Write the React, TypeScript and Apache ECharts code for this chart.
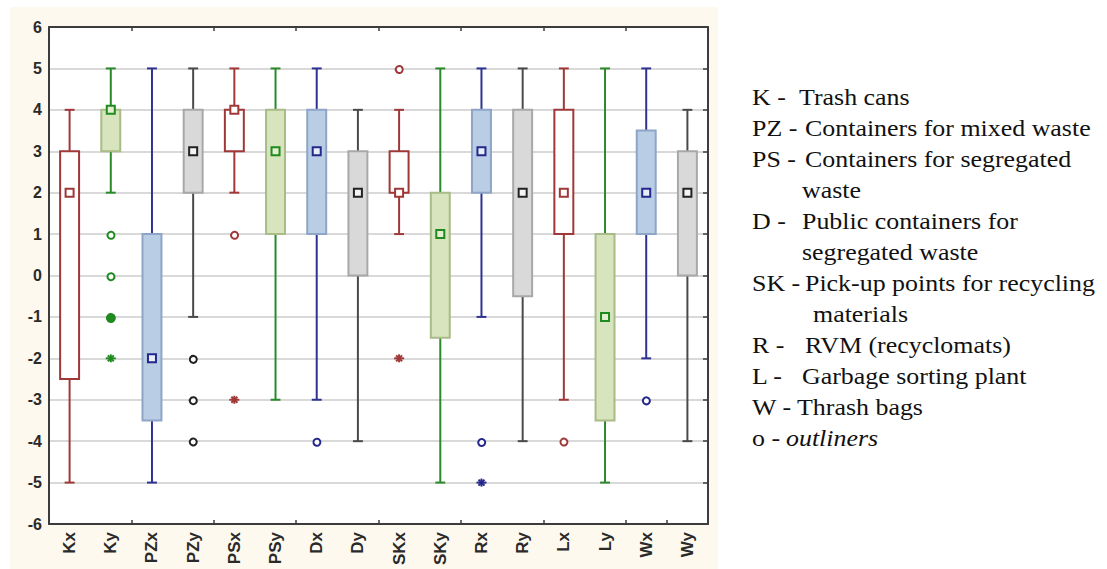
import React, { useEffect, useRef } from "react";
import * as echarts from "echarts";

// ---- data ----
const categories = ["Kx", "Ky", "PZx", "PZy", "PSx", "PSy", "Dx", "Dy", "SKx", "SKy", "Rx", "Ry", "Lx", "Ly", "Wx", "Wy"];
const whiskerMin = [-5, 2, -5, -1, 2, -3, -3, -4, 1, -5, -1, -4, -3, -5, -2, -4];
const quartile1 = [-2.5, 3, -3.5, 2, 3, 1, 1, 0, 2, -1.5, 2, -0.5, 1, -3.5, 1, 0];
const medians = [2, 4, -2, 3, 4, 3, 3, 2, 2, 1, 3, 2, 2, -1, 2, 2];
const quartile3 = [3, 4, 1, 4, 4, 4, 4, 3, 3, 2, 4, 4, 4, 1, 3.5, 3];
const whiskerMax = [4, 5, 5, 5, 5, 5, 5, 4, 4, 5, 5, 5, 5, 5, 5, 4];
// outliers: [category index, value, kind] kind 0 = outlier circle, 1 = extreme asterisk, 2 = filled circle
const outlierCat = [1, 1, 1, 1, 3, 3, 3, 4, 4, 6, 8, 8, 10, 10, 12, 14];
const outlierVal = [1, 0, -1, -2, -2, -3, -4, 1, -3, -4, 5, -2, -4, -5, -4, -3];
const outlierKind = [0, 0, 2, 1, 0, 0, 0, 0, 1, 0, 0, 1, 0, 1, 0, 0];
const yTicksMin = -6;
const yTicksMax = 6;

const legendKeys = ["K -", "PZ -", "PS -", "", "D -", "", "SK -", "", "R -", "L -", "W -", "o -"];
const legendTexts = [
  "Trash cans",
  "Containers for mixed waste",
  "Containers for segregated",
  "waste",
  "Public containers for",
  "segregated waste",
  "Pick-up points for recycling",
  "materials",
  "RVM (recyclomats)",
  "Garbage sorting plant",
  "Thrash bags",
  "outliners",
];

// ---- styles ----
const palette = [
  { line: "#a03838", box: "#a03838", fill: "#ffffff", med: "#a03838", medFill: "#ffffff" },
  { line: "#2a8a2a", box: "#a9bb86", fill: "#d7e4bd", med: "#1f8a1f", medFill: "#e4efd0" },
  { line: "#2e3391", box: "#8ea5c8", fill: "#b9cde5", med: "#24288a", medFill: "#e8eef8" },
  { line: "#4a4a4a", box: "#a8a8a8", fill: "#d9d9d9", med: "#222222", medFill: "#f4f4f4" },
];
const legendDescX = [799, 805, 805, 802, 802, 802, 805, 813, 805, 802, 797, 786];

export default function App() {
  const ref = useRef<HTMLDivElement>(null);

  useEffect(() => {
    if (!ref.current) return;
    const chart = echarts.init(ref.current, undefined, { renderer: "svg" });

    const boxData = categories.map((_, i) => [i, whiskerMin[i], quartile1[i], medians[i], quartile3[i], whiskerMax[i]]);
    const outData = outlierCat.map((c, k) => [c, outlierVal[k], outlierKind[k]]);

    const renderBox = (params: any, api: any) => {
      const i = api.value(0);
      const lo = api.coord([i, api.value(1)]);
      const q1 = api.coord([i, api.value(2)]);
      const md = api.coord([i, api.value(3)]);
      const q3 = api.coord([i, api.value(4)]);
      const hi = api.coord([i, api.value(5)]);
      const bw = api.size([1, 0])[0];
      const boxW = bw * 0.46;
      const capW = bw * 0.24;
      const p = palette[i % 4];
      const x = lo[0];
      const ls = { stroke: p.line, lineWidth: 2 };
      return {
        type: "group",
        children: [
          { type: "line", shape: { x1: x, y1: hi[1], x2: x, y2: q3[1] }, style: ls },
          { type: "line", shape: { x1: x, y1: q1[1], x2: x, y2: lo[1] }, style: ls },
          { type: "line", shape: { x1: x - capW / 2, y1: hi[1], x2: x + capW / 2, y2: hi[1] }, style: ls },
          { type: "line", shape: { x1: x - capW / 2, y1: lo[1], x2: x + capW / 2, y2: lo[1] }, style: ls },
          {
            type: "rect",
            shape: { x: x - boxW / 2, y: q3[1], width: boxW, height: q1[1] - q3[1] },
            style: { fill: p.fill, stroke: p.box, lineWidth: 2 },
          },
          {
            type: "rect",
            shape: { x: x - 4, y: md[1] - 4, width: 8, height: 8 },
            style: { fill: p.medFill, stroke: p.med, lineWidth: 2 },
          },
        ],
      };
    };

    const renderOut = (params: any, api: any) => {
      const i = api.value(0);
      const kind = api.value(2);
      const pt = api.coord([i, api.value(1)]);
      const p = palette[i % 4];
      const col = p.med;
      if (kind === 1) {
        const s = 4;
        const st = { stroke: col, lineWidth: 2 };
        return {
          type: "group",
          children: [
            { type: "line", shape: { x1: pt[0] - s - 1, y1: pt[1], x2: pt[0] + s + 1, y2: pt[1] }, style: st },
            { type: "line", shape: { x1: pt[0], y1: pt[1] - s, x2: pt[0], y2: pt[1] + s }, style: st },
            { type: "line", shape: { x1: pt[0] - 3, y1: pt[1] - 3, x2: pt[0] + 3, y2: pt[1] + 3 }, style: st },
            { type: "line", shape: { x1: pt[0] - 3, y1: pt[1] + 3, x2: pt[0] + 3, y2: pt[1] - 3 }, style: st },
          ],
        };
      }
      return {
        type: "circle",
        shape: { cx: pt[0], cy: pt[1], r: kind === 2 ? 4 : 3.5 },
        style: { fill: kind === 2 ? col : "#ffffff", stroke: col, lineWidth: 2 },
      };
    };

    const legendGraphics: any[] = [];
    const rowY0 = 97;
    const rowStep = 31;
    const serif = "Liberation Serif";
    const sx = 1.08;
    legendTexts.forEach((t, k) => {
      const y = rowY0 + k * rowStep;
      if (legendKeys[k]) {
        legendGraphics.push({
          type: "text",
          x: 752,
          y,
          scaleX: sx,
          style: {
            text: legendKeys[k],
            fontFamily: serif,
            fontSize: 24,
            fill: "#111",
            verticalAlign: "middle",
            align: "left",
          },
        });
      }
      legendGraphics.push({
        type: "text",
        x: legendDescX[k],
        y,
        scaleX: sx,
        style: {
          text: t,
          fontFamily: serif,
          fontSize: 24,
          fontStyle: k === legendTexts.length - 1 ? "italic" : "normal",
          fill: "#111",
          verticalAlign: "middle",
          align: "left",
        },
      });
    });

    const axisFont = { fontFamily: "Liberation Sans", fontWeight: "bold" as const, color: "#2a2a2a" };

    chart.setOption({
      animation: false,
      backgroundColor: "#ffffff",
      graphic: [
        {
          type: "rect",
          z: -100,
          silent: true,
          shape: { x: 10, y: 7, width: 708, height: 562 },
          style: { fill: "#fdf9ee" },
        },
        ...legendGraphics,
      ],
      grid: {
        left: 49,
        right: 399,
        top: 27,
        bottom: 45,
        show: true,
        backgroundColor: "#ffffff",
        borderWidth: 0,
      },
      xAxis: [
        {
          type: "category",
          data: categories,
          position: "bottom",
          axisLine: { onZero: false, lineStyle: { color: "#3c3c3c", width: 2 } },
          axisTick: { show: true, inside: true, interval: 1, length: 4, lineStyle: { color: "#3c3c3c", width: 1.5 } },
          axisLabel: { ...axisFont, fontSize: 17, rotate: 90, interval: 0, margin: 8 },
          splitLine: { show: false },
        },
        {
          type: "category",
          data: categories,
          position: "top",
          axisLine: { onZero: false, lineStyle: { color: "#3c3c3c", width: 2 } },
          axisTick: { show: true, inside: true, interval: 1, length: 4, lineStyle: { color: "#3c3c3c", width: 1.5 } },
          axisLabel: { show: false },
          splitLine: { show: false },
        },
      ],
      yAxis: [
        {
          type: "value",
          min: yTicksMin,
          max: yTicksMax,
          interval: 1,
          position: "left",
          axisLine: { show: true, onZero: false, lineStyle: { color: "#3c3c3c", width: 2 } },
          axisTick: { show: false },
          axisLabel: { ...axisFont, fontSize: 16, margin: 7 },
          splitLine: { show: true, lineStyle: { color: "#d9d9d9", width: 2 } },
        },
        {
          type: "value",
          min: yTicksMin,
          max: yTicksMax,
          interval: 1,
          position: "right",
          axisLine: { show: true, onZero: false, lineStyle: { color: "#3c3c3c", width: 2 } },
          axisTick: { show: true, inside: true, length: 5, lineStyle: { color: "#3c3c3c", width: 1.5 } },
          axisLabel: { show: false },
          splitLine: { show: false },
        },
      ],
      series: [
        {
          type: "custom",
          name: "boxes",
          xAxisIndex: 0,
          yAxisIndex: 0,
          renderItem: renderBox,
          encode: { x: 0, y: [1, 2, 3, 4, 5] },
          data: boxData,
          z: 3,
        },
        {
          type: "custom",
          name: "outliers",
          xAxisIndex: 0,
          yAxisIndex: 0,
          renderItem: renderOut,
          encode: { x: 0, y: 1 },
          data: outData,
          z: 4,
        },
      ],
    });

    return () => chart.dispose();
  }, []);

  return (
    <div
      ref={ref}
      style={{ position: "absolute", left: 0, top: 0, width: 1107, height: 569 }}
    />
  );
}
